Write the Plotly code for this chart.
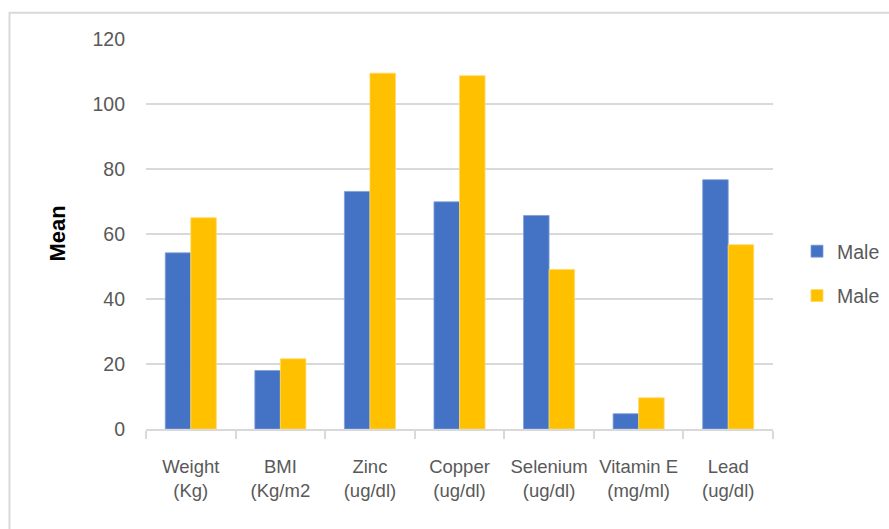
import plotly.graph_objects as go

categories = ["Weight<br>(Kg)", "BMI<br>(Kg/m2", "Zinc<br>(ug/dl)", "Copper<br>(ug/dl)",
              "Selenium<br>(ug/dl)", "Vitamin E<br>(mg/ml)", "Lead<br>(ug/dl)"]
series1_name = "Male"
series1 = [54.2, 18.0, 73.1, 69.9, 65.7, 4.7, 76.7]
series2_name = "Male"
series2 = [65.0, 21.6, 109.5, 108.7, 49.1, 9.6, 56.7]
y_ticks = [0, 20, 40, 60, 80, 100, 120]

FONT = "Liberation Sans"
TXT = "#595959"
GRID = "#d9d9d9"

fig = go.Figure()
fig.add_trace(go.Bar(x=categories, y=series1, name=series1_name, legendgroup="a",
                     marker=dict(color="#4472C4", line=dict(color="#7f9fd8", width=0.8))))
fig.add_trace(go.Bar(x=categories, y=series2, name=series2_name, legendgroup="b",
                     marker=dict(color="#FFC000", line=dict(color="#ffd966", width=0.8))))

L, R, T, B = 146, 116, 39, 100
W, H = 889, 529
ph = H - T - B
pw = W - L - R

fig.update_layout(
    width=W, height=H,
    margin=dict(l=L, r=R, t=T, b=B, pad=0, autoexpand=False),
    paper_bgcolor="white", plot_bgcolor="white",
    font=dict(family=FONT, size=20, color=TXT),
    barmode="group", bargap=0.43, bargroupgap=0,
    showlegend=True,
    legend=dict(x=(797 - L) / pw, xanchor="left", y=(T + ph - 232) / ph, yanchor="top",
                traceorder="grouped", tracegroupgap=16,
                font=dict(family=FONT, size=19.5, color=TXT),
                itemwidth=30, bgcolor="rgba(0,0,0,0)"),
    xaxis=dict(showgrid=False, showline=True, linecolor=GRID, linewidth=1.5, automargin=False,
               ticks="outside", tickson="boundaries", ticklen=8, tickcolor=GRID, tickwidth=1.5,
               tickangle=0, ticklabelstandoff=20,
               tickfont=dict(family=FONT, size=18.5, color=TXT)),
    yaxis=dict(range=[0, 120], tickvals=y_ticks, showgrid=True, gridcolor=GRID, gridwidth=1.5,
               zeroline=False, showline=False, ticks="", ticklabelstandoff=20, automargin=False,
               tickfont=dict(family=FONT, size=19.5, color=TXT)),
    annotations=[dict(text="<b>Mean</b>", textangle=-90, xref="paper", yref="paper",
                      x=(57 - L) / pw, y=(429.5 - 234) / ph, xanchor="center", yanchor="middle",
                      showarrow=False, font=dict(family=FONT, size=22, color="black"))],
    shapes=[dict(type="rect", xref="paper", yref="paper",
                 x0=(9.5 - L) / pw, x1=(W + 20 - L) / pw,
                 y0=(T + ph - (H + 20)) / ph, y1=(T + ph - 12.8) / ph,
                 line=dict(color=GRID, width=2), fillcolor="rgba(0,0,0,0)", layer="below")],
)

fig.write_html("out.html", config={"displayModeBar": False},
               post_script="document.body.style.margin='0';")
